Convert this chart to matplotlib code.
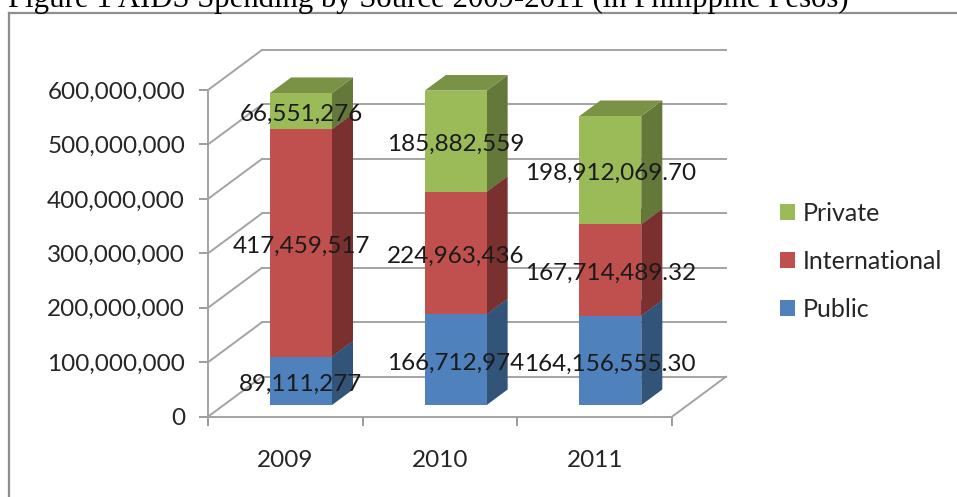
import matplotlib
matplotlib.use("Agg")
import matplotlib.pyplot as plt
from matplotlib.lines import Line2D
from matplotlib.patches import Patch
from matplotlib.ticker import StrMethodFormatter, FixedLocator, FixedFormatter

years = ["2009", "2010", "2011"]
public = [89111277, 166712974, 164156555.30]
international = [417459517, 224963436, 167714489.32]
private = [66551276, 185882559, 198912069.70]
label_formats = ["{:,.0f}", "{:,.0f}", "{:,.2f}"]
yticks = [0, 100000000, 200000000, 300000000, 400000000, 500000000, 600000000]

W, H = 957, 497
FONT = "Lato"
FS = 17.5
GRID = "#a3a3a3"

fig = plt.figure(figsize=(W / 100, H / 100), dpi=100)
fig.patch.set_facecolor("white")
L, R, T, B = 208, 672, 90, 416.7
ax = fig.add_axes([L / W, 1 - B / H, (R - L) / W, (B - T) / H])
ax.set_xlim(-0.5, 2.5)
ax.set_ylim(0, 600000000)
ax.patch.set_visible(False)

ux = (R - L) / 3
uy = (B - T) / 600000000
DX = 54 / ux
DY = 40 / uy


def shift(x, y, d):
    return x + d * DX, y + d * DY


# walls
for v in yticks:
    x0, y0 = shift(-0.5, v, 1)
    x1, _ = shift(2.5, v, 1)
    ax.plot([-0.5, x0], [v, y0], color=GRID, lw=1.4, clip_on=False, zorder=1)
    ax.plot([x0, x1], [y0, y0], color=GRID, lw=1.4, clip_on=False, zorder=1)
x2, y2 = shift(2.5, 0, 1)
ax.plot([2.5, x2], [0, y2], color=GRID, lw=1.4, clip_on=False, zorder=1)

# bars
D0, D1 = 0.29, 0.68
WIDTH = 0.40
series = [
    (public, "Public", "#4F81BD", "#325479", "#3F6797"),
    (international, "International", "#C0504D", "#7A302E", "#9A403E"),
    (private, "Private", "#9BBB59", "#64783A", "#7A9245"),
]
bottoms = [0.0, 0.0, 0.0]
label_items = []
for values, name, front, side, top in series:
    for i, v in enumerate(values):
        b = bottoms[i]
        xc, yb = shift(i, b, D0)
        xl, xr = xc - WIDTH / 2, xc + WIDTH / 2
        ax.bar(xc, v, WIDTH, bottom=yb, color=front, zorder=4, clip_on=False)
        dxb = (D1 - D0) * DX
        dyb = (D1 - D0) * DY
        ax.fill([xr, xr + dxb, xr + dxb, xr],
                [yb, yb + dyb, yb + v + dyb, yb + v],
                color=side, lw=0, zorder=3, clip_on=False)
        ax.fill([xl, xr, xr + dxb, xl + dxb],
                [yb + v, yb + v, yb + v + dyb, yb + v + dyb],
                color=top, lw=0, zorder=3, clip_on=False)
        label_items.append((xc, yb + v / 2, label_formats[i].format(v)))
        bottoms[i] = b + v

for x, y, s in label_items:
    ax.annotate(s, (x, y), xytext=(0, -2.5), textcoords="offset points",
                ha="center", va="center", fontsize=FS, family=FONT,
                color="#1a1a1a", zorder=6, annotation_clip=False)

# axes
for s in ("top", "right"):
    ax.spines[s].set_visible(False)
for s in ("left", "bottom"):
    ax.spines[s].set_color(GRID)
    ax.spines[s].set_linewidth(1.4)
    ax.spines[s].set_zorder(2)
ax.set_yticks(yticks)
ax.yaxis.set_major_formatter(StrMethodFormatter("{x:,.0f}"))
ax.tick_params(axis="y", length=6.5, width=1.2, color="#8c8c8c", pad=10,
               labelsize=FS, labelcolor="#262626")
ax.xaxis.set_major_locator(FixedLocator([-0.5, 0.5, 1.5, 2.5]))
ax.xaxis.set_major_formatter(FixedFormatter(["", "", "", ""]))
ax.xaxis.set_minor_locator(FixedLocator([0, 1, 2]))
ax.xaxis.set_minor_formatter(FixedFormatter(years))
ax.tick_params(axis="x", which="major", length=6.5, width=1.2, color="#8c8c8c")
ax.tick_params(axis="x", which="minor", length=0, pad=24,
               labelsize=FS, labelcolor="#262626")
for t in ax.get_yticklabels() + ax.get_xticklabels(minor=True):
    t.set_family(FONT)

# legend
handles = [Patch(facecolor=c, label=n) for _, n, c, _, _ in reversed(series)]
fig.legend(handles=handles, loc="center left",
           bbox_to_anchor=(780 / W, 1 - 261.5 / H), frameon=False,
           prop={"family": FONT, "size": 18}, labelcolor="#262626",
           handlelength=0.6, handleheight=0.6, handletextpad=0.32,
           labelspacing=1.0, borderpad=0, borderaxespad=0)

# outer frame and title
fig.add_artist(Line2D([9 / W, 9 / W], [0, 1 - 13 / H], color="#8f8f8f", lw=1.6))
fig.add_artist(Line2D([9 / W, 1], [1 - 13 / H, 1 - 13 / H], color="#8f8f8f", lw=1.6))
fig.text(8 / W, 1 - 7.5 / H,
         "Figure 1 AIDS Spending by Source 2009-2011 (in Philippine Pesos)",
         family="Liberation Serif", fontsize=22.15, color="black",
         ha="left", va="baseline")

fig.savefig("out.png", dpi=100)
